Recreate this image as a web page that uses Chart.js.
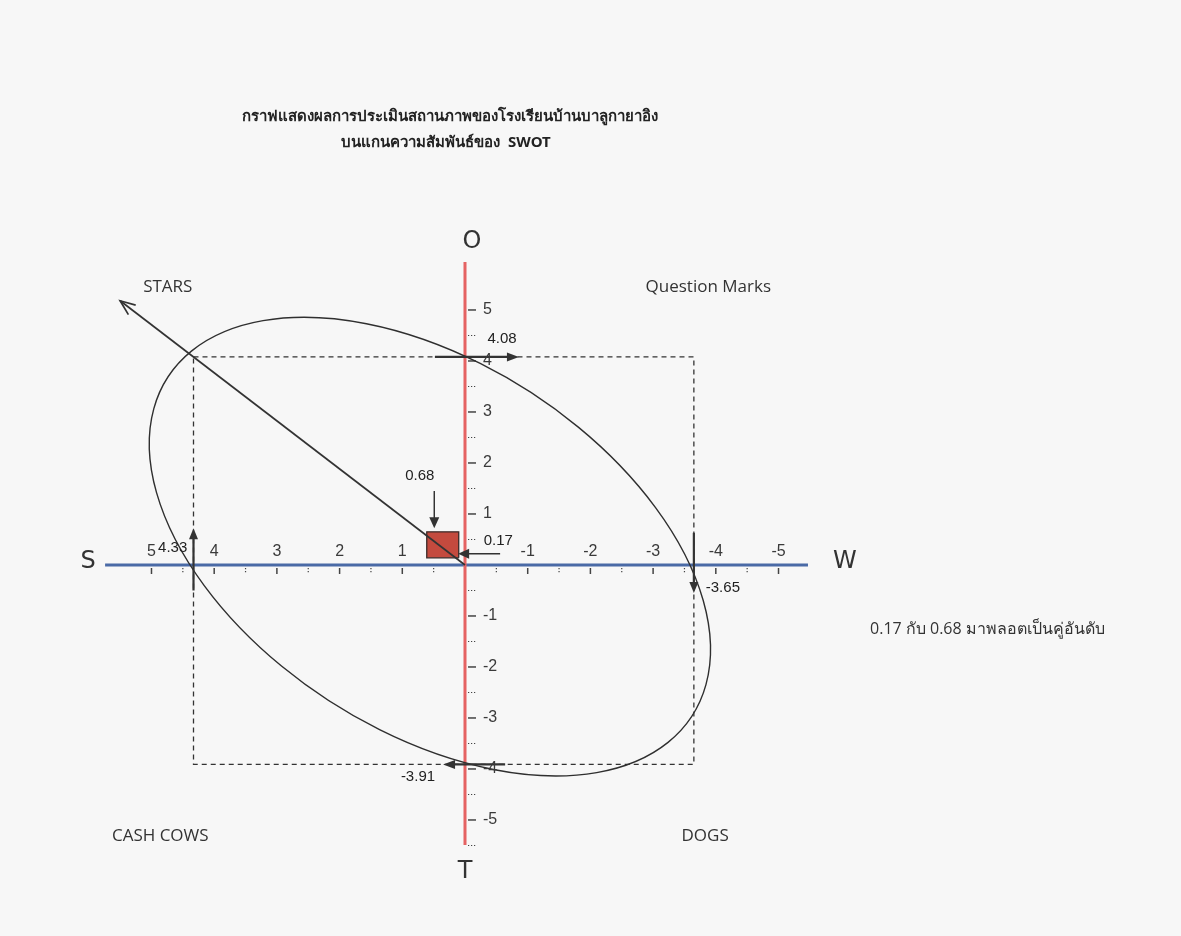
<!DOCTYPE html>
<html>
<head>
<meta charset="utf-8">
<script src="https://cdn.jsdelivr.net/npm/chart.js@4/dist/chart.umd.min.js"></script>
<style>
html,body{margin:0;padding:0;background:#f7f7f7;}
canvas{display:block;}
</style>
</head>
<body>
<canvas id="c" width="1181" height="936"></canvas>
<script>
// ---------------- data ----------------
const titleLines = ['กราฟแสดงผลการประเมินสถานภาพของโรงเรียนบ้านบาลูกายาอิง', 'บนแกนความสัมพันธ์ของ  SWOT'];
const axisLetters = ['S', 'W', 'O', 'T'];
const swotValues = [4.33, -3.65, 4.08, -3.91];          // S (x+), W (x-), O (y+), T (y-)
const swotLabels = ['4.33', '-3.65', '4.08', '-3.91'];
const resultValues = [0.68, 0.17];                       // S+W, O+T
const resultLabels = ['0.68', '0.17'];
const xTickValues = [5, 4, 3, 2, 1, -1, -2, -3, -4, -5];
const xTickLabels = ['5', '4', '3', '2', '1', '-1', '-2', '-3', '-4', '-5'];
const xMinorTicks = [4.5, 3.5, 2.5, 1.5, 0.5, -0.5, -1.5, -2.5, -3.5, -4.5];
const yTickValues = [5, 4, 3, 2, 1, -1, -2, -3, -4, -5];
const yTickLabels = ['5', '4', '3', '2', '1', '-1', '-2', '-3', '-4', '-5'];
const yMinorTicks = [4.5, 3.5, 2.5, 1.5, 0.5, -0.5, -1.5, -2.5, -3.5, -4.5, -5.5];
const quadrantLabels = ['STARS', 'Question Marks', 'CASH COWS', 'DOGS'];
const noteText = '0.17 กับ 0.68 มาพลอตเป็นคู่อันดับ';
const strategyVector = [5.5, 5.18];                      // STARS direction arrow tip
const ellipseCenter = [0.56, 0.36];
const ellipseRadii = [5.40, 3.33];
const ellipseAngleDeg = 45.3;

// ---------------- layout (data-space placement, not data) ----------------
const L = {
  xRange: [-11.419, 7.416],
  yRange: [-7.275, 11.078],
  hAxis: [5.74, -5.47],
  vAxis: [5.94, -5.49],
  letterPos: [[6.01, 0.06], [-6.06, 0.06], [-0.11, 6.33], [0.0, -6.02]],
  quadrantPos: [[4.74, 5.45], [-3.88, 5.45], [4.86, -5.31], [-3.83, -5.31]],
  swotLabelPos: [[4.43, 0.33, 'right'], [-3.84, -0.45, 'left'], [-0.59, 4.43, 'center'], [0.75, -4.16, 'center']],
  resultLabelPos: [[0.72, 1.75], [-0.53, 0.47]],
  box: [[0.10, 0.61], [0.14, 0.65]],
  notePos: [-6.46, -1.27]
};

// ---------------- helpers ----------------
function px(chart, v) { return chart.scales.x.getPixelForValue(v); }
function py(chart, v) { return chart.scales.y.getPixelForValue(v); }

function arrow(ctx, chart, x1, y1, x2, y2, opt) {
  const a = px(chart, x1), b = py(chart, y1), c = px(chart, x2), d = py(chart, y2);
  const ang = Math.atan2(d - b, c - a);
  const len = opt.head || 11, wid = opt.width || 4.5;
  ctx.save();
  ctx.strokeStyle = opt.color || '#333';
  ctx.fillStyle = opt.color || '#333';
  ctx.lineWidth = opt.lw || 1.5;
  ctx.lineCap = 'butt';
  ctx.beginPath();
  if (opt.open) {
    ctx.moveTo(a, b); ctx.lineTo(c, d); ctx.stroke();
    ctx.beginPath();
    ctx.moveTo(c - len * Math.cos(ang) + wid * Math.sin(ang), d - len * Math.sin(ang) - wid * Math.cos(ang));
    ctx.lineTo(c, d);
    ctx.lineTo(c - len * Math.cos(ang) - wid * Math.sin(ang), d - len * Math.sin(ang) + wid * Math.cos(ang));
    ctx.stroke();
  } else {
    ctx.moveTo(a, b);
    ctx.lineTo(c - len * 0.8 * Math.cos(ang), d - len * 0.8 * Math.sin(ang));
    ctx.stroke();
    ctx.beginPath();
    ctx.moveTo(c, d);
    ctx.lineTo(c - len * Math.cos(ang) + wid * Math.sin(ang), d - len * Math.sin(ang) - wid * Math.cos(ang));
    ctx.lineTo(c - len * Math.cos(ang) - wid * Math.sin(ang), d - len * Math.sin(ang) + wid * Math.cos(ang));
    ctx.closePath();
    ctx.fill();
  }
  ctx.restore();
}

const swotPlugin = {
  id: 'swot',
  afterDatasetsDraw(chart) {
    const ctx = chart.ctx;
    const x0 = px(chart, 0), y0 = py(chart, 0);

    // axis ticks
    ctx.save();
    ctx.strokeStyle = '#444';
    ctx.lineWidth = 1.5;
    xTickValues.forEach(v => {
      const x = px(chart, v);
      ctx.beginPath(); ctx.moveTo(x, y0 + 3); ctx.lineTo(x, y0 + 9); ctx.stroke();
    });
    yTickValues.forEach(v => {
      const y = py(chart, v);
      ctx.beginPath(); ctx.moveTo(x0 + 3, y); ctx.lineTo(x0 + 11, y); ctx.stroke();
    });
    ctx.setLineDash([1.2, 1.8]);
    ctx.lineWidth = 1.2;
    xMinorTicks.forEach(v => {
      const x = px(chart, v);
      ctx.beginPath(); ctx.moveTo(x, y0 + 3); ctx.lineTo(x, y0 + 9); ctx.stroke();
    });
    yMinorTicks.forEach(v => {
      const y = py(chart, v);
      ctx.beginPath(); ctx.moveTo(x0 + 3, y); ctx.lineTo(x0 + 11, y); ctx.stroke();
    });
    ctx.restore();

    // ellipse (defined in data space, mapped through the scales)
    const sx = px(chart, 1) - px(chart, 0);
    const sy = py(chart, 1) - py(chart, 0);
    ctx.save();
    ctx.beginPath();
    ctx.save();
    ctx.translate(px(chart, ellipseCenter[0]), py(chart, ellipseCenter[1]));
    ctx.transform(sx, 0, 0, sy, 0, 0);
    ctx.ellipse(0, 0, ellipseRadii[0], ellipseRadii[1], ellipseAngleDeg * Math.PI / 180, 0, Math.PI * 2);
    ctx.restore();
    ctx.strokeStyle = '#2f2f2f';
    ctx.lineWidth = 1.4;
    ctx.stroke();
    ctx.restore();

    // SWOT arrows
    arrow(ctx, chart, swotValues[0], -0.5, swotValues[0], 0.72, {lw: 2.2, head: 11, width: 4.5});
    arrow(ctx, chart, swotValues[1], 0.63, swotValues[1], -0.55, {lw: 2.2, head: 11, width: 4.5});
    arrow(ctx, chart, 0.48, swotValues[2], -0.86, swotValues[2], {lw: 2.4, head: 12, width: 4.5});
    arrow(ctx, chart, -0.64, swotValues[3], 0.35, swotValues[3], {lw: 2.4, head: 12, width: 4.5});

    // result arrows
    arrow(ctx, chart, 0.49, 1.45, 0.49, 0.72, {lw: 1.5, head: 11, width: 5});
    arrow(ctx, chart, -0.56, 0.22, 0.11, 0.22, {lw: 1.5, head: 11, width: 5});

    // strategy (STARS) arrow
    arrow(ctx, chart, 0, 0, strategyVector[0], strategyVector[1], {lw: 1.7, head: 15, width: 6, open: true});
  },
  afterDraw(chart) {
    const ctx = chart.ctx;
    const x0 = px(chart, 0), y0 = py(chart, 0);
    ctx.save();
    ctx.textBaseline = 'middle';

    // title
    ctx.fillStyle = '#222';
    ctx.textAlign = 'center';
    ctx.font = 'bold 15px "Noto Sans", "Open Sans", sans-serif';
    ctx.fillText(titleLines[0], 450, 117);
    ctx.fillText(titleLines[1], 446, 143);

    // axis letters
    ctx.fillStyle = '#333';
    ctx.font = '24px "DejaVu Sans", sans-serif';
    axisLetters.forEach((t, i) => {
      ctx.fillText(t, px(chart, L.letterPos[i][0]), py(chart, L.letterPos[i][1]));
    });

    // tick labels
    ctx.font = '16px "Liberation Sans", Arial, sans-serif';
    ctx.fillStyle = '#3a3a3a';
    ctx.textAlign = 'center';
    xTickValues.forEach((v, i) => {
      ctx.fillText(xTickLabels[i], px(chart, v), y0 - 13);
    });
    ctx.textAlign = 'left';
    yTickValues.forEach((v, i) => {
      ctx.fillText(yTickLabels[i], x0 + 18, py(chart, v));
    });

    // value labels
    ctx.font = '15px "Liberation Sans", Arial, sans-serif';
    ctx.fillStyle = '#222';
    swotLabels.forEach((t, i) => {
      const p = L.swotLabelPos[i];
      ctx.textAlign = p[2];
      ctx.fillText(t, px(chart, p[0]), py(chart, p[1]));
    });
    ctx.textAlign = 'center';
    resultLabels.forEach((t, i) => {
      const p = L.resultLabelPos[i];
      ctx.fillText(t, px(chart, p[0]), py(chart, p[1]));
    });

    // quadrant labels
    ctx.font = '17px "Open Sans", "Noto Sans", sans-serif';
    ctx.fillStyle = '#333';
    quadrantLabels.forEach((t, i) => {
      const p = L.quadrantPos[i];
      ctx.fillText(t, px(chart, p[0]), py(chart, p[1]));
    });

    // note
    ctx.textAlign = 'left';
    ctx.font = '16px "Open Sans", "Noto Sans", sans-serif';
    ctx.fillText(noteText, px(chart, L.notePos[0]), py(chart, L.notePos[1]));
    ctx.restore();
  }
};

const rect = [
  {x: swotValues[0], y: swotValues[2]}, {x: swotValues[1], y: swotValues[2]},
  {x: swotValues[1], y: swotValues[3]}, {x: swotValues[0], y: swotValues[3]},
  {x: swotValues[0], y: swotValues[2]}
];
const box = [
  {x: L.box[0][0], y: L.box[1][0]}, {x: L.box[0][1], y: L.box[1][0]},
  {x: L.box[0][1], y: L.box[1][1]}, {x: L.box[0][0], y: L.box[1][1]},
  {x: L.box[0][0], y: L.box[1][0]}
];

new Chart(document.getElementById('c'), {
  type: 'scatter',
  data: {
    datasets: [
      {
        label: 'result', data: box, showLine: true, fill: 'shape',
        backgroundColor: '#c44a3e', borderColor: '#3a2a28', borderWidth: 1.3,
        pointRadius: 0, tension: 0, order: 1
      },
      {
        label: 'O-T axis', data: [{x: 0, y: L.vAxis[0]}, {x: 0, y: L.vAxis[1]}],
        showLine: true, borderColor: '#e56363', borderWidth: 3, pointRadius: 0, order: 2
      },
      {
        label: 'S-W axis', data: [{x: L.hAxis[0], y: 0}, {x: L.hAxis[1], y: 0}],
        showLine: true, borderColor: '#4a6aa6', borderWidth: 3, pointRadius: 0, order: 3
      },
      {
        label: 'box', data: rect, showLine: true, borderColor: '#333', borderWidth: 1.3,
        borderDash: [5, 4], pointRadius: 0, fill: false, order: 4
      }
    ]
  },
  options: {
    responsive: false,
    animation: false,
    events: [],
    layout: {padding: 0},
    plugins: {legend: {display: false}, tooltip: {enabled: false}, title: {display: false}},
    scales: {
      x: {type: 'linear', display: false, reverse: true, min: L.xRange[0], max: L.xRange[1]},
      y: {type: 'linear', display: false, min: L.yRange[0], max: L.yRange[1]}
    }
  },
  plugins: [swotPlugin]
});
</script>
</body>
</html>
